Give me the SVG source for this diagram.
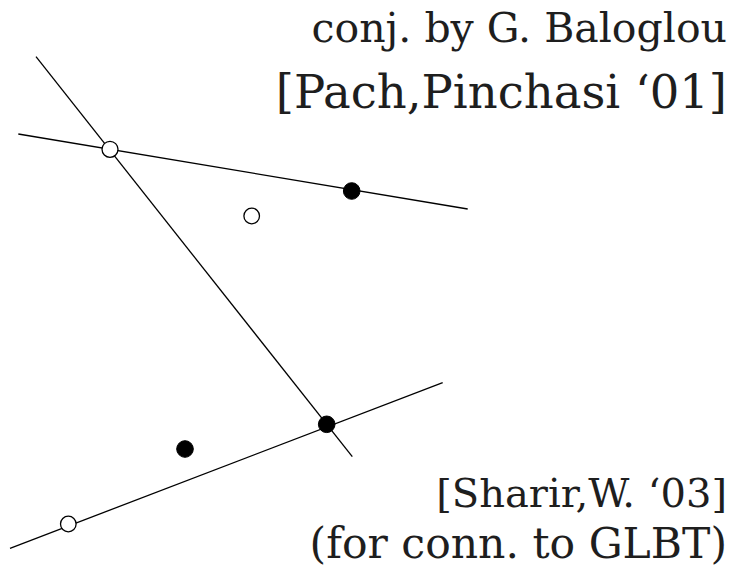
<svg xmlns="http://www.w3.org/2000/svg" width="739" height="573" viewBox="0 0 739 573">
<style>
.ln{stroke:#000;stroke-width:1.3;fill:none}
.open{fill:#fff;stroke:#000;stroke-width:1.3}
.full{fill:#000;stroke:#000;stroke-width:1}
.t{font-family:"DejaVu Serif","Liberation Serif",serif;fill:#1e1e1e;text-anchor:end}
</style>
<rect width="739" height="573" fill="#fff"/>
<g id="lines">
<line class="ln" x1="36" y1="56.7" x2="352.3" y2="456.7"/>
<line class="ln" x1="18.3" y1="134" x2="467.7" y2="209"/>
<line class="ln" x1="10" y1="548.3" x2="442.7" y2="382.7"/>
</g>
<g id="points">
<circle class="open" cx="110" cy="149.3" r="8"/>
<circle class="full" cx="351.7" cy="191" r="8.3"/>
<circle class="open" cx="251.7" cy="216" r="7.8"/>
<circle class="full" cx="326.7" cy="424.3" r="8.3"/>
<circle class="full" cx="185" cy="449" r="8.3"/>
<circle class="open" cx="68.3" cy="524" r="7.8"/>
</g>
<g id="labels">
<text class="t" x="727" y="42" font-size="41">conj. by G. Baloglou</text>
<text class="t" x="727" y="108" font-size="46.5">[Pach,Pinchasi ‘01]</text>
<text class="t" x="727" y="507" font-size="40">[Sharir,W. ‘03]</text>
<text class="t" x="727" y="558" font-size="42.5">(for conn. to GLBT)</text>
</g>
</svg>
